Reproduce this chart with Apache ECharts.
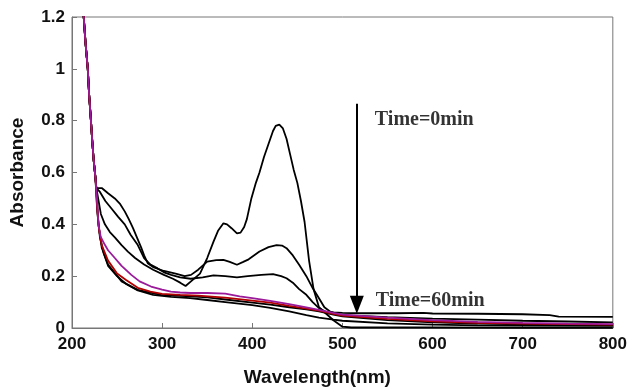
<!DOCTYPE html>
<html>
<head>
<meta charset="utf-8">
<script src="https://cdn.jsdelivr.net/npm/echarts@6/dist/echarts.min.js"></script>
<style>html,body{margin:0;padding:0;background:#fff}#c{width:630px;height:392px}</style>
</head>
<body>
<div id="c"></div>
<script>
// Shared steep UV head (nm, absorbance)
var headWl = [211, 213, 215, 217.5, 219, 221, 222.5, 224, 226];
var headAb = [1.35, 1.2, 1.1, 1.0, 0.9, 0.8, 0.72, 0.65, 0.58];

// Curve 1 (Time = 0 min)
var wl1 = [227,229,232,236.5,242,247.5,255,262,270,280,290,302,312,320,326,332,342,350,357,362,368,372,377,383,387,391,394,399,404,408,413,418,423,426,430,434,438,442,446,450,454,458,463,468,474,482,490,500,510,600,700,800];
var ab1 = [0.54,0.50,0.44,0.40,0.37,0.35,0.32,0.295,0.27,0.245,0.225,0.205,0.19,0.175,0.162,0.18,0.21,0.27,0.333,0.375,0.404,0.40,0.385,0.365,0.368,0.39,0.42,0.50,0.56,0.60,0.66,0.71,0.76,0.78,0.785,0.77,0.73,0.67,0.61,0.56,0.49,0.41,0.26,0.15,0.08,0.055,0.03,0.005,0.002,0.002,0.001,0.001];

// Curve 2
var wl2 = [227,229,233,240,247.5,253,258.5,263,267.7,272,276.8,280,284,290,302,315,325,332,340,350,360,368,375,383,390,396,408,418,427,433,438,445,452,460,467,474,480,487,500,550,600,650,700,750,800];
var ab2 = [0.54,0.54,0.54,0.52,0.50,0.48,0.45,0.42,0.385,0.35,0.31,0.28,0.25,0.235,0.22,0.21,0.20,0.205,0.225,0.256,0.262,0.263,0.255,0.244,0.255,0.265,0.295,0.312,0.32,0.318,0.308,0.28,0.244,0.20,0.154,0.115,0.08,0.062,0.05,0.042,0.036,0.032,0.028,0.025,0.022];

// Curve 3
var wl3 = [227,231,237,244,251,258.5,265,273,280,287,295,302,310,320,331.6,345,357,370,383,395,410,423,432,438,445,452,460,467,474,482,490,500,520,560,590,600,650,700,730,740,800];
var ab3 = [0.54,0.525,0.49,0.46,0.43,0.40,0.36,0.32,0.27,0.245,0.23,0.215,0.205,0.195,0.19,0.195,0.203,0.20,0.195,0.20,0.205,0.208,0.20,0.192,0.175,0.15,0.128,0.10,0.077,0.062,0.06,0.058,0.057,0.057,0.058,0.056,0.055,0.053,0.05,0.044,0.043];

// Curve 4 (purple)
var wl4 = [226,228,229.3,232,236.6,240,247.5,255,265.8,275,287.7,300,309.7,320,331.6,350,370,386,400,420,441,460,474,490,500,550,600,650,700,750,800];
var ab4 = [0.58,0.48,0.40,0.35,0.32,0.30,0.27,0.24,0.205,0.18,0.16,0.148,0.14,0.137,0.135,0.135,0.133,0.122,0.115,0.105,0.092,0.08,0.07,0.058,0.052,0.04,0.03,0.024,0.02,0.017,0.015];

// Curve 5 (red)
var wl5 = [226,228,230,233,240,250,260,273,287,300,320,340,370,400,420,441,460,474,490,500,550,600,650,700,750,800];
var ab5 = [0.58,0.46,0.38,0.32,0.26,0.21,0.185,0.155,0.14,0.132,0.128,0.125,0.117,0.106,0.098,0.085,0.075,0.067,0.055,0.048,0.035,0.026,0.02,0.017,0.015,0.013];

// Curve 6
var wl6 = [226,227,229.3,233,240,255,273,298.7,331.6,350,370,400,420,441,460,474,490,500,550,600,650,700,800];
var ab6 = [0.58,0.54,0.40,0.31,0.245,0.18,0.147,0.128,0.122,0.118,0.11,0.098,0.09,0.08,0.072,0.064,0.052,0.045,0.03,0.022,0.017,0.014,0.012];

// Curve 7
var wl7 = [226,228,231,235,240,250,260,273,290,310,331,350,370,400,420,441,460,474,490,500,550,600,650,700,800];
var ab7 = [0.58,0.45,0.35,0.29,0.24,0.20,0.17,0.145,0.128,0.12,0.115,0.108,0.10,0.088,0.078,0.064,0.05,0.04,0.032,0.028,0.018,0.013,0.01,0.009,0.008];

var curves = [
  {wl: wl1, ab: ab1, color: '#000000'},
  {wl: wl2, ab: ab2, color: '#000000'},
  {wl: wl3, ab: ab3, color: '#000000'},
  {wl: wl7, ab: ab7, color: '#000000'},
  {wl: wl6, ab: ab6, color: '#000000'},
  {wl: wl5, ab: ab5, color: '#b00000'},
  {wl: wl4, ab: ab4, color: '#9a1a9a'}
];

// Annotations
var arrowTop = [516, 0.865];
var arrowBottom = [516, 0.09];
var label0 = {text: 'Time=0min', pos: [536, 0.804]};
var label60 = {text: 'Time=60min', pos: [537, 0.104]};

function zip(a, b) {
  var out = [];
  for (var i = 0; i < a.length; i++) out.push([a[i], b[i]]);
  return out;
}

var series = curves.map(function (c) {
  return {
    type: 'line',
    data: zip(headWl, headAb).concat(zip(c.wl, c.ab)),
    showSymbol: false,
    symbol: 'none',
    lineStyle: {color: c.color, width: 1.8},
    clip: true,
    z: 3
  };
});

series.push({
  type: 'line',
  data: [],
  markLine: {
    silent: true,
    symbol: ['none', 'triangle'],
    symbolSize: [14, 18],
    symbolRotate: 180,
    lineStyle: {color: '#000', width: 2, type: 'solid'},
    label: {show: false},
    data: [[{coord: arrowTop}, {coord: arrowBottom}]]
  }
});

series.push({
  type: 'scatter',
  symbolSize: 0,
  data: [label0.pos, label60.pos],
  label: {
    show: true,
    position: 'right',
    distance: 0,
    color: '#000',
    fontFamily: '"Liberation Serif", "Times New Roman", serif',
    fontWeight: 'bold',
    fontSize: 20,
    formatter: function (p) { return p.dataIndex === 0 ? label0.text : label60.text; }
  },
  z: 5
});

var chart = echarts.init(document.getElementById('c'), null, {renderer: 'canvas'});
chart.setOption({
  animation: false,
  backgroundColor: '#fff',
  grid: {left: 70, right: 13, top: 17, bottom: 62, show: true, borderColor: '#777', borderWidth: 1},
  xAxis: {
    type: 'value', min: 200, max: 800, interval: 100,
    name: 'Wavelength(nm)', nameLocation: 'middle', nameGap: 40,
    nameTextStyle: {fontFamily: '"Liberation Sans", Arial, sans-serif', fontWeight: 'bold', fontSize: 19, color: '#111', padding: [0, 50, 0, 0]},
    axisLine: {lineStyle: {color: '#777'}},
    axisTick: {inside: true, length: 5, lineStyle: {color: '#777'}},
    axisLabel: {fontFamily: '"Liberation Sans", Arial, sans-serif', fontWeight: 'bold', fontSize: 17, color: '#111', margin: 8},
    splitLine: {show: false}
  },
  yAxis: {
    type: 'value', min: 0, max: 1.2, interval: 0.2,
    name: 'Absorbance', nameLocation: 'middle', nameGap: 45, nameRotate: 90,
    nameTextStyle: {fontFamily: '"Liberation Sans", Arial, sans-serif', fontWeight: 'bold', fontSize: 19, color: '#111'},
    axisLine: {show: true, lineStyle: {color: '#777'}},
    axisTick: {show: true, inside: true, length: 5, lineStyle: {color: '#777'}},
    axisLabel: {fontFamily: '"Liberation Sans", Arial, sans-serif', fontWeight: 'bold', fontSize: 17, color: '#111', margin: 7},
    splitLine: {show: false}
  },
  series: series
});
</script>
</body>
</html>
